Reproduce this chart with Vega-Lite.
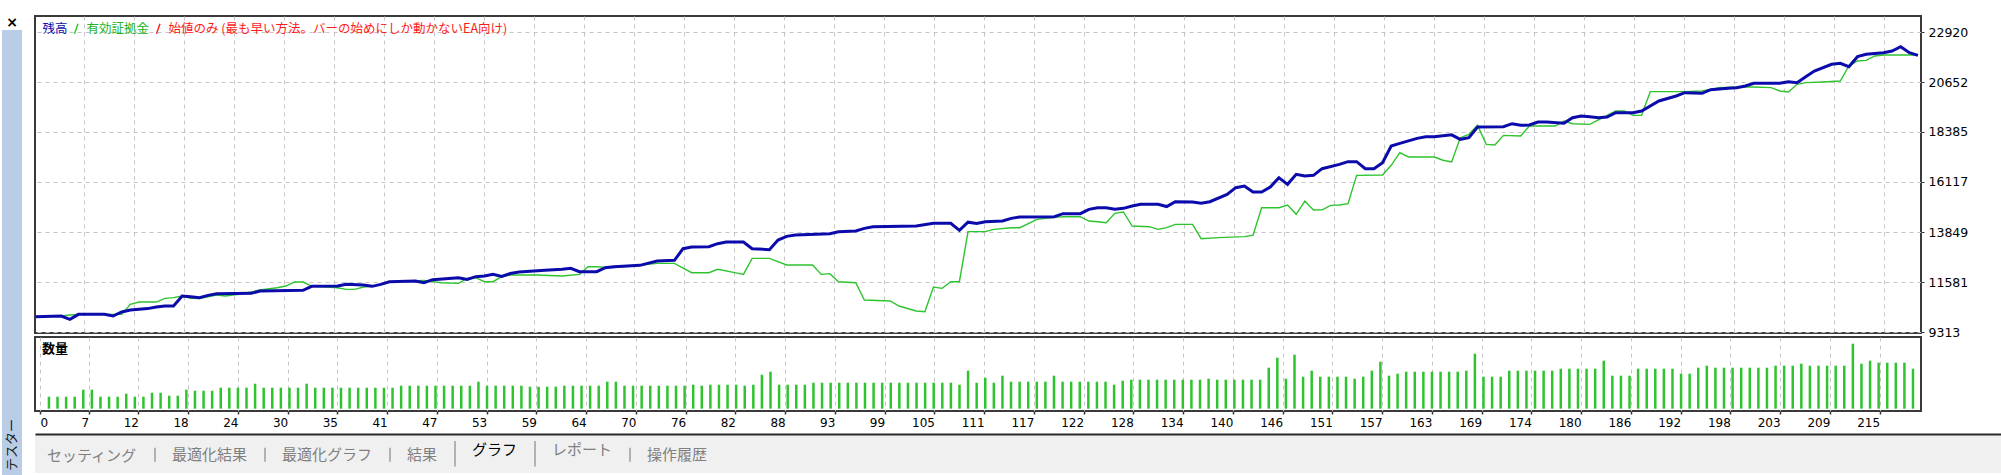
{
  "$schema": "https://vega.github.io/schema/vega-lite/v6.json",
  "padding": {"left": 2, "top": 15, "right": 0, "bottom": 0},
  "background": "white",
  "config": {
    "view": {"stroke": "#3a3a3a", "strokeWidth": 2},
    "axis": {"labelFont": "DejaVu Sans", "labelFontSize": 11.5, "labelColor": "#000000", "gridColor": "#c4c4c4", "gridDash": [4, 4], "gridWidth": 1, "tickColor": "#333333", "title": null},
    "legend": {"labelLimit": 2000}
  },
  "datasets": {
    "balance": [
      {"t":-1,"v":10000},{"t":2,"v":10038},{"t":3,"v":9887},{"t":4,"v":10114},{"t":7,"v":10114},{"t":8,"v":10038},{"t":9,"v":10220},{"t":10,"v":10310},{"t":11,"v":10344},{"t":12,"v":10374},{"t":13,"v":10447},{"t":14,"v":10492},{"t":15,"v":10492},{"t":16,"v":10945},{"t":17,"v":10915},{"t":18,"v":10870},{"t":19,"v":10976},{"t":20,"v":11051},{"t":24,"v":11066},{"t":25,"v":11172},{"t":30,"v":11202},{"t":31,"v":11384},{"t":34,"v":11399},{"t":35,"v":11475},{"t":37,"v":11444},{"t":38,"v":11384},{"t":39,"v":11475},{"t":40,"v":11595},{"t":43,"v":11626},{"t":44,"v":11550},{"t":45,"v":11686},{"t":48,"v":11777},{"t":49,"v":11701},{"t":50,"v":11822},{"t":51,"v":11853},{"t":52,"v":11928},{"t":53,"v":11834},{"t":54,"v":11964},{"t":55,"v":12034},{"t":58,"v":12110},{"t":60,"v":12155},{"t":61,"v":12200},{"t":62,"v":12049},{"t":64,"v":12049},{"t":65,"v":12231},{"t":66,"v":12276},{"t":69,"v":12337},{"t":71,"v":12533},{"t":73,"v":12563},{"t":74,"v":13092},{"t":75,"v":13168},{"t":77,"v":13183},{"t":78,"v":13319},{"t":79,"v":13395},{"t":81,"v":13395},{"t":82,"v":13092},{"t":84,"v":13047},{"t":85,"v":13486},{"t":86,"v":13652},{"t":87,"v":13713},{"t":91,"v":13773},{"t":92,"v":13864},{"t":94,"v":13894},{"t":95,"v":14015},{"t":96,"v":14090},{"t":101,"v":14121},{"t":103,"v":14242},{"t":105,"v":14242},{"t":106,"v":13924},{"t":107,"v":14294},{"t":108,"v":14234},{"t":109,"v":14317},{"t":111,"v":14347},{"t":112,"v":14468},{"t":113,"v":14529},{"t":117,"v":14544},{"t":118,"v":14680},{"t":120,"v":14680},{"t":121,"v":14877},{"t":122,"v":14952},{"t":123,"v":14952},{"t":124,"v":14877},{"t":125,"v":14922},{"t":126,"v":15028},{"t":127,"v":15103},{"t":129,"v":15103},{"t":130,"v":15004},{"t":131,"v":15224},{"t":133,"v":15209},{"t":134,"v":15149},{"t":135,"v":15224},{"t":137,"v":15557},{"t":138,"v":15859},{"t":139,"v":15935},{"t":140,"v":15663},{"t":141,"v":15663},{"t":142,"v":15890},{"t":143,"v":16313},{"t":144,"v":16011},{"t":145,"v":16464},{"t":146,"v":16389},{"t":147,"v":16419},{"t":148,"v":16721},{"t":150,"v":16918},{"t":151,"v":17039},{"t":152,"v":17039},{"t":153,"v":16721},{"t":154,"v":16721},{"t":155,"v":16993},{"t":156,"v":17749},{"t":157,"v":17870},{"t":159,"v":18097},{"t":160,"v":18173},{"t":161,"v":18173},{"t":163,"v":18254},{"t":164,"v":18052},{"t":165,"v":18127},{"t":166,"v":18611},{"t":169,"v":18626},{"t":170,"v":18762},{"t":171,"v":18687},{"t":172,"v":18702},{"t":173,"v":18838},{"t":174,"v":18838},{"t":176,"v":18778},{"t":177,"v":19035},{"t":178,"v":19110},{"t":179,"v":19080},{"t":180,"v":19035},{"t":181,"v":19065},{"t":182,"v":19261},{"t":184,"v":19261},{"t":185,"v":19337},{"t":187,"v":19791},{"t":189,"v":20017},{"t":190,"v":20169},{"t":192,"v":20138},{"t":193,"v":20305},{"t":195,"v":20365},{"t":196,"v":20396},{"t":197,"v":20471},{"t":198,"v":20592},{"t":201,"v":20592},{"t":202,"v":20667},{"t":203,"v":20622},{"t":204,"v":20894},{"t":205,"v":21151},{"t":207,"v":21454},{"t":208,"v":21499},{"t":209,"v":21348},{"t":210,"v":21802},{"t":211,"v":21907},{"t":213,"v":21983},{"t":214,"v":22059},{"t":215,"v":22255},{"t":216,"v":21983},{"t":217,"v":21862}
    ],
    "equity": [
      {"t":-1,"v":10000},{"t":2,"v":10038},{"t":3,"v":10084},{"t":4,"v":10114},{"t":9,"v":10114},{"t":10,"v":10568},{"t":11,"v":10673},{"t":13,"v":10673},{"t":14,"v":10840},{"t":15,"v":10870},{"t":16,"v":10945},{"t":17,"v":10840},{"t":18,"v":10825},{"t":20,"v":10991},{"t":21,"v":10945},{"t":23,"v":11051},{"t":25,"v":11217},{"t":27,"v":11323},{"t":28,"v":11399},{"t":29,"v":11581},{"t":30,"v":11581},{"t":31,"v":11399},{"t":34,"v":11323},{"t":35,"v":11248},{"t":36,"v":11248},{"t":37,"v":11354},{"t":38,"v":11384},{"t":39,"v":11475},{"t":40,"v":11595},{"t":44,"v":11656},{"t":46,"v":11550},{"t":48,"v":11520},{"t":49,"v":11747},{"t":50,"v":11777},{"t":51,"v":11595},{"t":52,"v":11595},{"t":53,"v":11822},{"t":54,"v":11898},{"t":57,"v":11898},{"t":60,"v":11853},{"t":62,"v":11928},{"t":63,"v":12276},{"t":64,"v":12276},{"t":66,"v":12231},{"t":68,"v":12306},{"t":71,"v":12427},{"t":73,"v":12427},{"t":75,"v":12004},{"t":77,"v":12004},{"t":78,"v":12155},{"t":80,"v":12004},{"t":81,"v":11928},{"t":82,"v":12654},{"t":84,"v":12654},{"t":86,"v":12352},{"t":89,"v":12352},{"t":90,"v":11928},{"t":91,"v":11959},{"t":92,"v":11595},{"t":94,"v":11550},{"t":95,"v":10764},{"t":98,"v":10719},{"t":99,"v":10492},{"t":101,"v":10265},{"t":102,"v":10235},{"t":103,"v":11354},{"t":104,"v":11294},{"t":105,"v":11595},{"t":106,"v":11595},{"t":107,"v":13864},{"t":109,"v":13864},{"t":110,"v":13970},{"t":112,"v":14045},{"t":113,"v":14045},{"t":115,"v":14423},{"t":116,"v":14468},{"t":118,"v":14544},{"t":120,"v":14544},{"t":121,"v":14347},{"t":122,"v":14317},{"t":123,"v":14272},{"t":124,"v":14695},{"t":125,"v":14756},{"t":126,"v":14121},{"t":128,"v":14090},{"t":129,"v":13970},{"t":130,"v":14045},{"t":131,"v":14197},{"t":133,"v":14197},{"t":134,"v":13546},{"t":136,"v":13592},{"t":139,"v":13637},{"t":140,"v":13704},{"t":141,"v":14952},{"t":143,"v":14952},{"t":144,"v":15073},{"t":145,"v":14650},{"t":146,"v":15254},{"t":147,"v":14846},{"t":148,"v":14854},{"t":149,"v":15058},{"t":150,"v":15073},{"t":151,"v":15134},{"t":152,"v":16419},{"t":155,"v":16434},{"t":156,"v":16873},{"t":157,"v":17447},{"t":158,"v":17251},{"t":161,"v":17251},{"t":162,"v":17104},{"t":163,"v":17024},{"t":164,"v":18127},{"t":165,"v":18279},{"t":166,"v":18687},{"t":167,"v":17825},{"t":168,"v":17795},{"t":169,"v":18233},{"t":171,"v":18203},{"t":172,"v":18657},{"t":175,"v":18657},{"t":176,"v":18883},{"t":177,"v":18762},{"t":179,"v":18732},{"t":181,"v":19140},{"t":182,"v":19337},{"t":183,"v":19337},{"t":184,"v":19140},{"t":185,"v":19140},{"t":186,"v":20214},{"t":190,"v":20214},{"t":192,"v":20245},{"t":194,"v":20396},{"t":196,"v":20426},{"t":198,"v":20426},{"t":200,"v":20396},{"t":201,"v":20245},{"t":202,"v":20199},{"t":203,"v":20547},{"t":204,"v":20622},{"t":206,"v":20652},{"t":208,"v":20698},{"t":209,"v":21378},{"t":210,"v":21605},{"t":211,"v":21635},{"t":212,"v":21832},{"t":213,"v":21877},{"t":217,"v":21877}
    ],
    "vol": [
      {"t":0,"q":0.12},{"t":1,"q":0.12},{"t":2,"q":0.12},{"t":3,"q":0.12},{"t":4,"q":0.19},{"t":5,"q":0.19},{"t":6,"q":0.12},{"t":7,"q":0.12},{"t":8,"q":0.12},{"t":9,"q":0.15},
      {"t":10,"q":0.12},{"t":11,"q":0.12},{"t":12,"q":0.16},{"t":13,"q":0.16},{"t":14,"q":0.13},{"t":15,"q":0.13},{"t":16,"q":0.19},{"t":17,"q":0.18},{"t":18,"q":0.18},{"t":19,"q":0.18},
      {"t":20,"q":0.21},{"t":21,"q":0.21},{"t":22,"q":0.21},{"t":23,"q":0.21},{"t":24,"q":0.25},{"t":25,"q":0.21},{"t":26,"q":0.21},{"t":27,"q":0.21},{"t":28,"q":0.21},{"t":29,"q":0.21},
      {"t":30,"q":0.25},{"t":31,"q":0.21},{"t":32,"q":0.21},{"t":33,"q":0.21},{"t":34,"q":0.21},{"t":35,"q":0.21},{"t":36,"q":0.21},{"t":37,"q":0.21},{"t":38,"q":0.21},{"t":39,"q":0.21},
      {"t":40,"q":0.21},{"t":41,"q":0.23},{"t":42,"q":0.23},{"t":43,"q":0.23},{"t":44,"q":0.23},{"t":45,"q":0.23},{"t":46,"q":0.23},{"t":47,"q":0.23},{"t":48,"q":0.23},{"t":49,"q":0.23},
      {"t":50,"q":0.27},{"t":51,"q":0.23},{"t":52,"q":0.23},{"t":53,"q":0.23},{"t":54,"q":0.23},{"t":55,"q":0.23},{"t":56,"q":0.22},{"t":57,"q":0.22},{"t":58,"q":0.22},{"t":59,"q":0.22},
      {"t":60,"q":0.23},{"t":61,"q":0.23},{"t":62,"q":0.23},{"t":63,"q":0.23},{"t":64,"q":0.23},{"t":65,"q":0.27},{"t":66,"q":0.27},{"t":67,"q":0.23},{"t":68,"q":0.23},{"t":69,"q":0.23},
      {"t":70,"q":0.23},{"t":71,"q":0.23},{"t":72,"q":0.23},{"t":73,"q":0.23},{"t":74,"q":0.23},{"t":75,"q":0.24},{"t":76,"q":0.23},{"t":77,"q":0.24},{"t":78,"q":0.24},{"t":79,"q":0.24},
      {"t":80,"q":0.24},{"t":81,"q":0.23},{"t":82,"q":0.24},{"t":83,"q":0.34},{"t":84,"q":0.37},{"t":85,"q":0.24},{"t":86,"q":0.24},{"t":87,"q":0.24},{"t":88,"q":0.24},{"t":89,"q":0.26},
      {"t":90,"q":0.26},{"t":91,"q":0.26},{"t":92,"q":0.26},{"t":93,"q":0.26},{"t":94,"q":0.26},{"t":95,"q":0.26},{"t":96,"q":0.26},{"t":97,"q":0.26},{"t":98,"q":0.26},{"t":99,"q":0.26},
      {"t":100,"q":0.26},{"t":101,"q":0.26},{"t":102,"q":0.26},{"t":103,"q":0.26},{"t":104,"q":0.26},{"t":105,"q":0.26},{"t":106,"q":0.24},{"t":107,"q":0.38},{"t":108,"q":0.26},{"t":109,"q":0.31},
      {"t":110,"q":0.26},{"t":111,"q":0.33},{"t":112,"q":0.27},{"t":113,"q":0.27},{"t":114,"q":0.27},{"t":115,"q":0.27},{"t":116,"q":0.27},{"t":117,"q":0.33},{"t":118,"q":0.27},{"t":119,"q":0.27},
      {"t":120,"q":0.27},{"t":121,"q":0.27},{"t":122,"q":0.27},{"t":123,"q":0.27},{"t":124,"q":0.24},{"t":125,"q":0.28},{"t":126,"q":0.29},{"t":127,"q":0.29},{"t":128,"q":0.29},{"t":129,"q":0.29},
      {"t":130,"q":0.29},{"t":131,"q":0.29},{"t":132,"q":0.29},{"t":133,"q":0.29},{"t":134,"q":0.29},{"t":135,"q":0.30},{"t":136,"q":0.29},{"t":137,"q":0.29},{"t":138,"q":0.29},{"t":139,"q":0.29},
      {"t":140,"q":0.29},{"t":141,"q":0.29},{"t":142,"q":0.41},{"t":143,"q":0.51},{"t":144,"q":0.30},{"t":145,"q":0.54},{"t":146,"q":0.32},{"t":147,"q":0.38},{"t":148,"q":0.32},{"t":149,"q":0.32},
      {"t":150,"q":0.32},{"t":151,"q":0.32},{"t":152,"q":0.30},{"t":153,"q":0.32},{"t":154,"q":0.38},{"t":155,"q":0.47},{"t":156,"q":0.33},{"t":157,"q":0.35},{"t":158,"q":0.37},{"t":159,"q":0.37},
      {"t":160,"q":0.37},{"t":161,"q":0.37},{"t":162,"q":0.37},{"t":163,"q":0.37},{"t":164,"q":0.37},{"t":165,"q":0.38},{"t":166,"q":0.55},{"t":167,"q":0.32},{"t":168,"q":0.32},{"t":169,"q":0.32},
      {"t":170,"q":0.38},{"t":171,"q":0.38},{"t":172,"q":0.38},{"t":173,"q":0.38},{"t":174,"q":0.38},{"t":175,"q":0.38},{"t":176,"q":0.40},{"t":177,"q":0.40},{"t":178,"q":0.40},{"t":179,"q":0.40},
      {"t":180,"q":0.40},{"t":181,"q":0.48},{"t":182,"q":0.33},{"t":183,"q":0.33},{"t":184,"q":0.33},{"t":185,"q":0.40},{"t":186,"q":0.40},{"t":187,"q":0.40},{"t":188,"q":0.40},{"t":189,"q":0.40},
      {"t":190,"q":0.35},{"t":191,"q":0.35},{"t":192,"q":0.41},{"t":193,"q":0.43},{"t":194,"q":0.41},{"t":195,"q":0.41},{"t":196,"q":0.41},{"t":197,"q":0.41},{"t":198,"q":0.41},{"t":199,"q":0.41},
      {"t":200,"q":0.41},{"t":201,"q":0.43},{"t":202,"q":0.43},{"t":203,"q":0.43},{"t":204,"q":0.45},{"t":205,"q":0.43},{"t":206,"q":0.43},{"t":207,"q":0.43},{"t":208,"q":0.43},{"t":209,"q":0.43},
      {"t":210,"q":0.65},{"t":211,"q":0.45},{"t":212,"q":0.48},{"t":213,"q":0.46},{"t":214,"q":0.46},{"t":215,"q":0.46},{"t":216,"q":0.46},{"t":217,"q":0.40}
    ],
    "tabs": [
      {"tab": "セッティング"}, {"tab": "最適化結果"}, {"tab": "最適化グラフ"}, {"tab": "結果"}, {"tab": "グラフ"}, {"tab": "レポート"}, {"tab": "操作履歴"}
    ]
  },
  "spacing": 0,
  "hconcat": [
    {
      "spacing": 0,
      "vconcat": [
        {
          "width": 20,
          "height": 14,
          "view": {"stroke": null},
          "data": {"values": [{"label": "×"}]},
          "mark": {"type": "text", "align": "center", "baseline": "middle", "font": "DejaVu Sans", "fontSize": 14, "fontWeight": "bold", "color": "#000000"},
          "encoding": {"text": {"field": "label", "type": "nominal"}}
        },
        {
          "width": 20,
          "height": 446,
          "view": {"fill": "#b9cde6", "stroke": null},
          "data": {"values": [{"label": "テスター"}]},
          "mark": {"type": "text", "angle": 270, "align": "left", "baseline": "middle", "dx": -218, "font": "Noto Sans CJK JP", "fontSize": 13, "color": "#1a1a1a"},
          "encoding": {"text": {"field": "label", "type": "nominal"}}
        }
      ]
    },
    {
      "spacing": 5,
      "resolve": {"scale": {"color": "independent", "x": "independent"}, "legend": {"color": "independent"}},
      "vconcat": [
        {
          "spacing": 4,
          "bounds": "flush",
          "resolve": {"scale": {"color": "independent", "x": "independent"}, "legend": {"color": "independent"}},
          "vconcat": [
            {
              "width": 1886,
              "height": 317,
              "encoding": {
                "x": {"field": "t", "type": "quantitative", "scale": {"domain": [-1.04, 217.35], "nice": false, "zero": false},
                      "axis": {"values": [4.632,10.423,16.214,22.005,27.796,33.587,39.378,45.169,50.96,56.751,62.542,68.333,74.124,79.915,85.706,91.497,97.288,103.079,108.87,114.661,120.452,126.243,132.034,137.825,143.616,149.407,155.198,160.989,166.78,172.571,178.362,184.153,189.944,195.735,201.526,207.317,213.108],
                               "labels": false, "ticks": false, "domain": false, "grid": true}},
                "y": {"field": "v", "type": "quantitative", "scale": {"domain": [9268, 23646], "nice": false, "zero": false},
                      "axis": {"orient": "right", "values": [9313, 11581, 13849, 16117, 18385, 20652, 22920], "format": "d", "grid": true, "domain": false, "ticks": true, "tickSize": 3, "labelPadding": 4, "labelFontSize": 12.5, "labelFlush": false, "labelOverlap": false, "labelBound": false, "labelAlign": "left", "labelBaseline": "middle"}}
              },
              "layer": [
                {
                  "data": {"name": "equity"},
                  "mark": {"type": "line", "strokeWidth": 1.4},
                  "encoding": {
                    "color": {"datum": "有効証拠金", "type": "nominal",
                      "scale": {"domain": ["残高", "有効証拠金", "始値のみ (最も早い方法。バーの始めにしか動かないEA向け)"], "range": ["#0b0bab", "#2ec42e", "#ff1a1a"]},
                      "legend": {"title": null, "orient": "none", "legendX": -9, "legendY": 6, "direction": "horizontal", "padding": 0,
                                 "symbolType": "M-0.35,1L0.35,-1", "symbolSize": 100, "symbolStrokeWidth": 1.4, "symbolStrokeColor": "#3b5fae", "symbolFillColor": "transparent",
                                 "symbolOpacity": {"expr": "datum.label === '残高' ? 0 : 1"},
                                 "labelFont": "Noto Sans CJK JP", "labelFontSize": 12.5, "labelOffset": 4, "columnPadding": 2,
                                 "labelColor": {"expr": "datum.label === '残高' ? '#0b0bab' : datum.label === '有効証拠金' ? '#22b322' : '#ff1a1a'"}}
                    }
                  }
                },
                {
                  "data": {"name": "balance"},
                  "mark": {"type": "line", "strokeWidth": 3},
                  "encoding": {"color": {"datum": "残高", "type": "nominal"}}
                }
              ]
            },
            {
              "width": 1886,
              "height": 74,
              "data": {"name": "vol"},
              "mark": {"type": "bar", "size": 2.5},
              "encoding": {
                "x": {"field": "t", "type": "quantitative", "scale": {"domain": [-1.04, 217.35], "nice": false, "zero": false},
                      "axis": {"values": [-1.04,4.632,10.423,16.214,22.005,27.796,33.587,39.378,45.169,50.96,56.751,62.542,68.333,74.124,79.915,85.706,91.497,97.288,103.079,108.87,114.661,120.452,126.243,132.034,137.825,143.616,149.407,155.198,160.989,166.78,172.571,178.362,184.153,189.944,195.735,201.526,207.317,213.108],
                               "labelExpr": "datum.value < 0 ? '0' : '' + floor(datum.value + 2.398)",
                               "labelAlign": {"condition": {"test": "datum.value < 0", "value": "left"}, "value": "right"},
                               "labelFlush": false, "labelOverlap": false, "labelBound": false, "labelFontSize": 12,
                               "grid": true, "ticks": true, "tickSize": 3, "tickWidth": 1.5, "domain": false, "labelPadding": 3}},
                "y": {"field": "q", "type": "quantitative", "scale": {"domain": [-0.023, 0.717], "nice": false}, "axis": null},
                "color": {"datum": "数量", "type": "nominal", "scale": {"domain": ["数量"], "range": ["#2fc42f"]},
                          "legend": {"title": null, "orient": "none", "legendX": -6, "legendY": 5, "padding": 0, "symbolSize": 0, "symbolOpacity": 0, "labelOffset": 0,
                                     "labelFont": "Noto Sans CJK JP", "labelFontSize": 13, "labelFontWeight": "bold", "labelColor": "#000000"}}
              }
            }
          ]
        },
        {
          "width": 1966,
          "height": 39,
          "view": {"fill": "#f0f0f0", "stroke": null},
          "data": {"name": "tabs"},
          "mark": {"type": "point", "opacity": 0},
          "encoding": {
            "x": {"field": "tab", "type": "nominal", "sort": null,
                  "axis": {"orient": "top", "labels": false, "ticks": false, "grid": false, "domain": true, "domainColor": "#2a2a2a", "domainWidth": 2}},
            "color": {"field": "tab", "type": "nominal", "sort": null,
                      "scale": {"domain": ["セッティング", "最適化結果", "最適化グラフ", "結果", "グラフ", "レポート", "操作履歴"], "range": ["#888888"]},
                      "legend": {"title": null, "orient": "none", "legendX": -13, "legendY": 8, "direction": "horizontal", "padding": 0,
                                 "symbolType": {"expr": "datum.label === 'グラフ' || datum.label === 'レポート' ? 'M0,-1.3L0,2.3' : 'M0,-1L0,1'"},
                                 "symbolSize": 200, "symbolStrokeWidth": 1.2, "symbolFillColor": "transparent",
                                 "symbolStrokeColor": {"expr": "datum.label === 'グラフ' || datum.label === 'レポート' ? '#000000' : '#8a8a8a'"},
                                 "symbolOpacity": {"expr": "datum.label === 'セッティング' ? 0 : 1"},
                                 "labelFont": "Noto Sans CJK JP", "labelFontSize": 15, "labelOffset": 9, "columnPadding": 9,
                                 "labelColor": {"expr": "datum.label === 'グラフ' ? '#000000' : '#808080'"}}}
          }
        }
      ]
    }
  ]
}
